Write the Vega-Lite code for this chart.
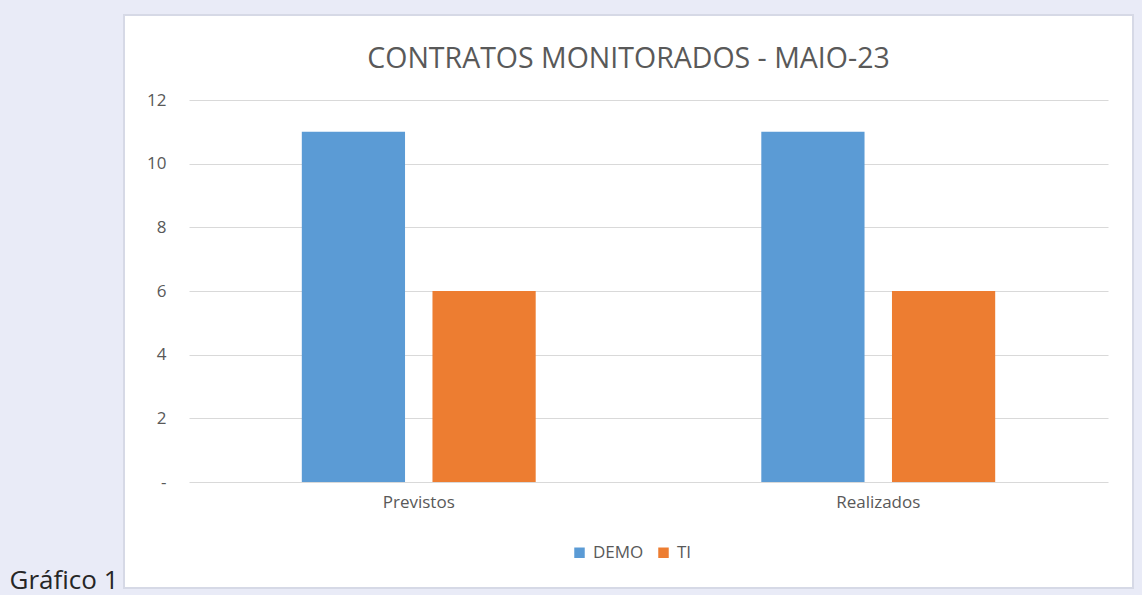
{
  "$schema": "https://vega.github.io/schema/vega-lite/v6.json",
  "autosize": "none",
  "width": 1009,
  "height": 573,
  "padding": {"left": 124, "top": 15, "right": 9, "bottom": 7},
  "background": "#e9ebf7",
  "title": {
    "text": "CONTRATOS MONITORADOS - MAIO-23",
    "orient": "top",
    "anchor": "middle",
    "baseline": "alphabetic",
    "offset": -81,
    "fontSize": 28.5,
    "font": "Open Sans",
    "fontWeight": "normal",
    "color": "#595959"
  },
  "data": {
    "values": [
      {"cat": "Previstos", "serie": "DEMO", "valor": 11},
      {"cat": "Previstos", "serie": "TI", "valor": 6},
      {"cat": "Realizados", "serie": "DEMO", "valor": 11},
      {"cat": "Realizados", "serie": "TI", "valor": 6}
    ]
  },
  "mark": {"type": "bar"},
  "encoding": {
    "x": {
      "field": "cat",
      "type": "nominal",
      "sort": ["Previstos", "Realizados"],
      "scale": {"range": [65, 984], "paddingInner": 0.491, "paddingOuter": 0.2455},
      "axis": {
        "title": null,
        "orient": "bottom",
        "offset": -106,
        "domain": false,
        "ticks": false,
        "grid": false,
        "labelAngle": 0,
        "labelPadding": 12,
        "labelFontSize": 17,
        "labelFont": "Open Sans",
        "labelColor": "#595959"
      }
    },
    "xOffset": {
      "field": "serie",
      "type": "nominal",
      "sort": ["DEMO", "TI"],
      "scale": {"paddingInner": 0.21, "paddingOuter": 0}
    },
    "y": {
      "field": "valor",
      "type": "quantitative",
      "scale": {"domain": [0, 12], "range": [467, 85], "nice": false, "zero": true},
      "axis": {
        "values": [0, 2, 4, 6, 8, 10, 12],
        "labelExpr": "datum.value == 0 ? '-' : datum.label",
        "offset": -65,
        "domain": false,
        "ticks": false,
        "grid": true,
        "gridColor": "#d9d9d9",
        "gridWidth": 1,
        "labelPadding": 23,
        "labelFontSize": 17,
        "labelFont": "Open Sans",
        "labelColor": "#595959",
        "title": "Gráfico 1",
        "titleAngle": 0,
        "titleAlign": "left",
        "titleBaseline": "alphabetic",
        "titleX": -180,
        "titleY": 573,
        "titleFont": "Open Sans",
        "titleFontSize": 26,
        "titleFontWeight": "normal",
        "titleColor": "#262626"
      }
    },
    "color": {
      "field": "serie",
      "type": "nominal",
      "sort": ["DEMO", "TI"],
      "scale": {"domain": ["DEMO", "TI"], "range": ["#5b9bd5", "#ed7d31"]},
      "legend": {
        "title": null,
        "orient": "none",
        "legendX": 447,
        "legendY": 529,
        "direction": "horizontal",
        "symbolType": "square",
        "symbolSize": 110,
        "symbolStrokeWidth": 0,
        "labelFontSize": 17,
        "labelFont": "Open Sans",
        "labelColor": "#595959",
        "columnPadding": 11,
        "labelOffset": 5
      }
    }
  },
  "config": {
    "view": {"fill": "white", "stroke": "#d6d9e6", "strokeWidth": 2}
  }
}
